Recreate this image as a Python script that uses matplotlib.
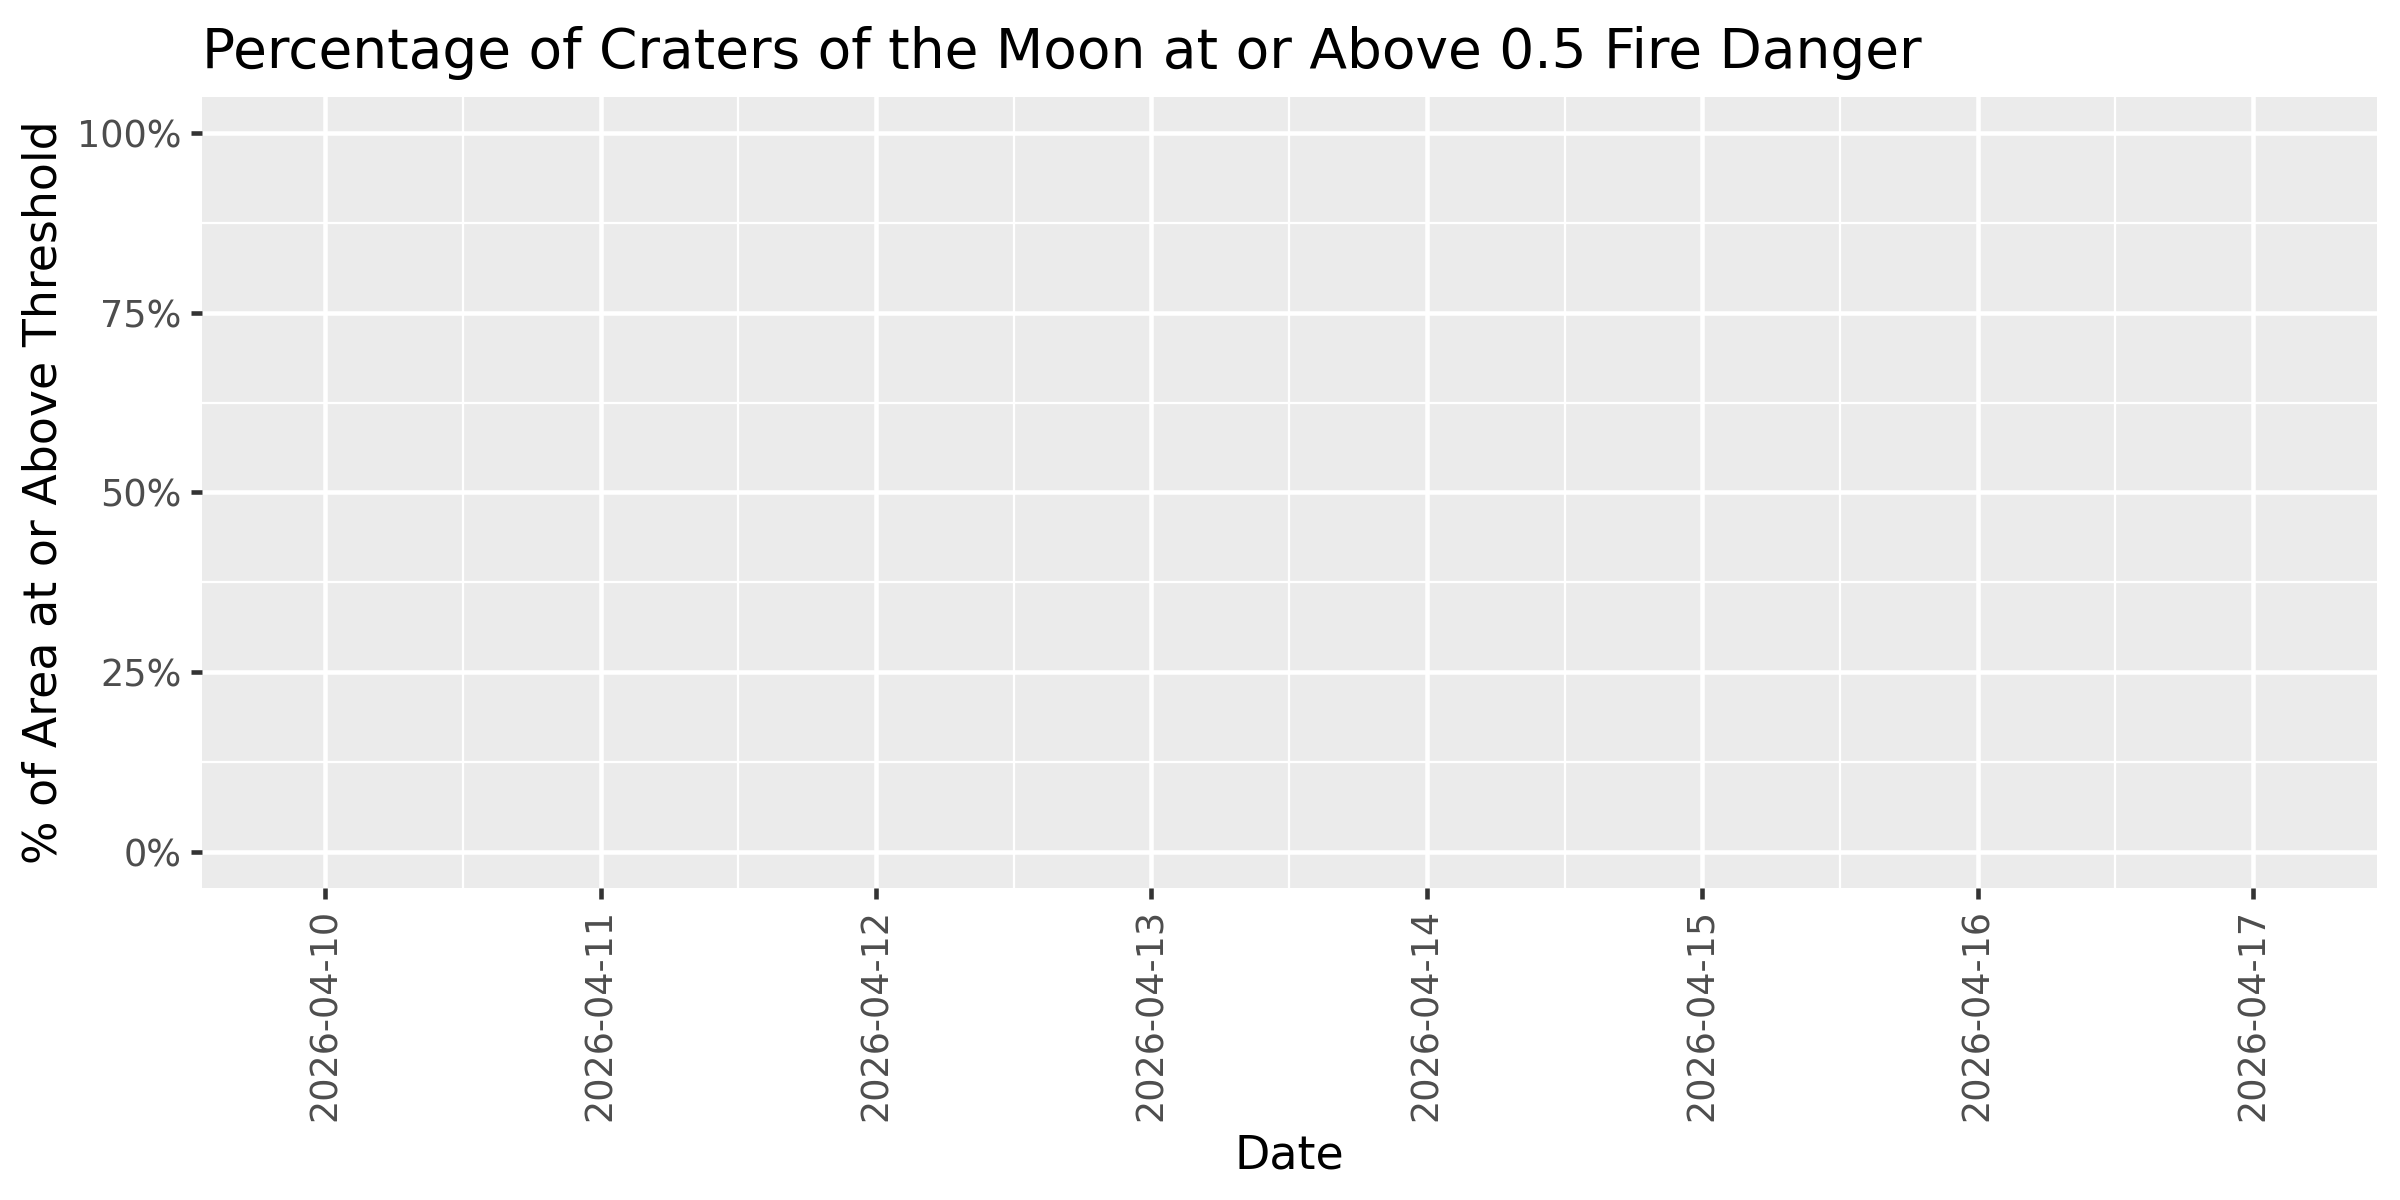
import matplotlib
matplotlib.use("Agg")
import matplotlib.pyplot as plt
import matplotlib.dates as mdates
import numpy as np
from datetime import datetime

# Data: one value per day; the reference shows no drawn values
dates = ["2026-04-10", "2026-04-11", "2026-04-12", "2026-04-13",
         "2026-04-14", "2026-04-15", "2026-04-16", "2026-04-17"]
pct_above = [np.nan, np.nan, np.nan, np.nan, np.nan, np.nan, np.nan, np.nan]
y_ticks = [0.0, 0.25, 0.5, 0.75, 1.0]
y_tick_labels = ["0%", "25%", "50%", "75%", "100%"]

title = "Percentage of Craters of the Moon at or Above 0.5 Fire Danger"
x_label = "Date"
y_label = "% of Area at or Above Threshold"

plt.rcParams['font.family'] = ['DejaVu Sans']

day_objs = [datetime.strptime(d, "%Y-%m-%d") for d in dates]
x = mdates.date2num(day_objs)

fig = plt.figure(figsize=(8, 4), dpi=300)
ax = fig.add_axes([0.0842, 0.26, 0.9904 - 0.0842, 0.9192 - 0.26])
ax.set_facecolor('#EBEBEB')

ax.plot(x, pct_above, color='black', linewidth=1)

# axis limits (ggplot-like expansion)
ax.set_xlim(x[0] - 0.447, x[-1] + 0.45)
ax.set_ylim(-0.05, 1.05)

# major ticks / gridlines
ax.set_xticks(x)
ax.set_xticklabels(dates, rotation=90, fontsize=8.8, color='#4D4D4D')
ax.set_yticks(y_ticks)
ax.set_yticklabels(y_tick_labels, fontsize=8.8, color='#4D4D4D')

# minor gridlines halfway between majors
ax.set_xticks((x[:-1] + x[1:]) / 2, minor=True)
ax.set_yticks([0.125, 0.375, 0.625, 0.875], minor=True)

ax.grid(which='major', color='white', linewidth=1.1)
ax.grid(which='minor', color='white', linewidth=0.55)
ax.set_axisbelow(True)

ax.tick_params(which='major', length=2.75, width=1.1, color='#333333', pad=2.2)
ax.tick_params(which='minor', length=0)
for s in ax.spines.values():
    s.set_visible(False)

ax.set_xlabel(x_label, fontsize=11, color='black', labelpad=3)
ax.set_ylabel(y_label, fontsize=11, color='black', labelpad=2.5)
ax.set_title(title, fontsize=13.2, color='black', loc='left', pad=7)

fig.savefig("out.png", dpi=300)
